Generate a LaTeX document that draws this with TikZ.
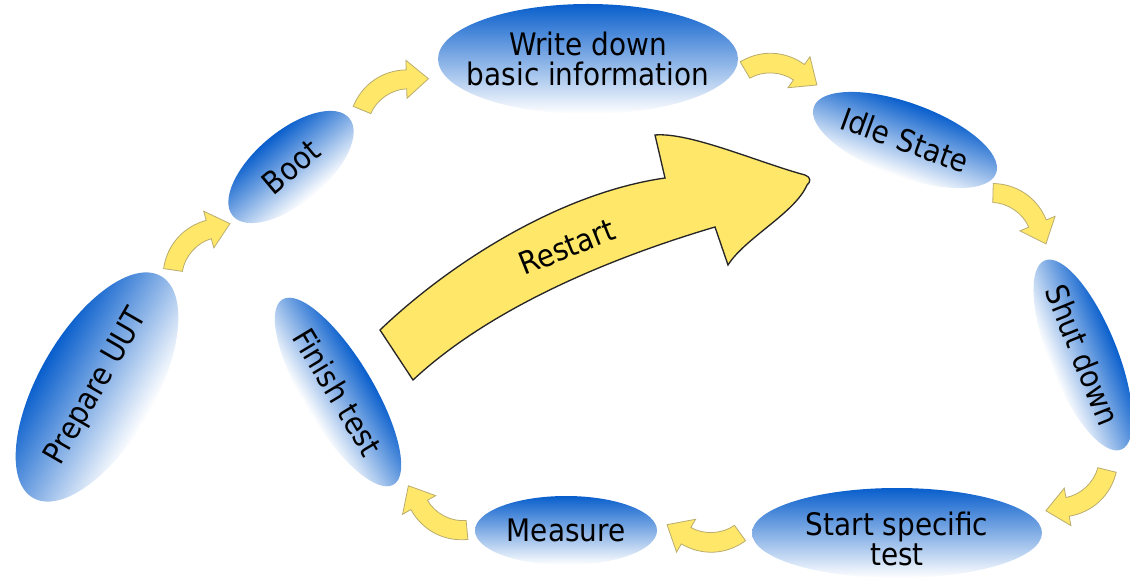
\documentclass[tikz,border=0pt]{standalone}
\usepackage{fontspec}
\newfontfamily\lblfont{DejaVu Sans Condensed}
\usetikzlibrary{shapes.geometric}
\definecolor{ablue}{RGB}{8,94,204}
\definecolor{ayellow}{RGB}{255,231,106}
\definecolor{aedge}{RGB}{185,172,110}
\tikzset{
  ovalfill/.style={top color=ablue, bottom color=white, draw=none},
  lbl/.style={font=\lblfont\fontsize{23.25pt}{22.5pt}\selectfont, align=center, inner sep=0pt, text=black},
  smallarrow/.style={fill=ayellow, draw=aedge, line width=0.6pt, line join=miter},
  bigarrow/.style={fill=ayellow, draw=black!85, line width=1pt, line join=miter}
}
% #1 name, #2 x, #3 y, #4 semi-major, #5 semi-minor, #6 angle, #7 text, #8 text offset (local y)
\newcommand\ovalnode[8]{%
  \begin{scope}[transform canvas={shift={(#2,#3)}, rotate=#6}]
    \shade[ovalfill] (0,0) ellipse ({#4} and {#5});
    \node[lbl] (#1) at (0,#8) {#7};
  \end{scope}}
\newcommand\curvedarrow[2]{%
  \pgfmathanglebetweenpoints{\pgfpointanchor{#1}{center}}{\pgfpointanchor{#2}{center}}%
  \edef\caang{\pgfmathresult}%
  \begin{scope}[shift={(#1)}, rotate=\caang]
   \begin{scope}[rotate=9.4]
    \draw[smallarrow] (-5.18,7.97) .. controls (14.9,21.1) and (39.1,21.1) .. (59.18,7.97)
      -- (64.36,15.94) -- (72.46,-11.99) -- (43.64,-15.94) -- (48.82,-7.97)
      .. controls (36.2,0.2) and (17.8,0.2) .. (5.18,-7.97) -- cycle;
   \end{scope}
  \end{scope}}
\begin{document}
\begin{tikzpicture}[x=0.75pt,y=0.75pt]
\useasboundingbox (0,0) rectangle (1130,578);
% ovals
\ovalnode{prep}{97}{191}{128}{58}{60}{Prepare UUT}{0}
\ovalnode{boot}{291}{411}{76}{36}{40}{Boot}{0}
\ovalnode{write}{588}{519}{150}{55}{0}{Write down\\basic information}{0}
\ovalnode{idle}{905}{438}{97}{37}{-20}{Idle State}{0}
\ovalnode{shut}{1083}{223}{102}{34}{-68}{Shut down}{0}
\ovalnode{start}{897}{45}{145}{45}{0}{Start specific\\test}{-6}
\ovalnode{meas}{566}{47.5}{91}{34.5}{0}{Measure}{0}
\ovalnode{fin}{338}{186}{108}{35}{-59}{Finish test}{0}
% small curved arrows
\coordinate (a1t) at (173,308); \coordinate (a1h) at (232,356);
\coordinate (a2t) at (362,468); \coordinate (a2h) at (430,500);
\coordinate (a3t) at (745,508); \coordinate (a3h) at (817,493);
\coordinate (a4t) at (993,385); \coordinate (a4h) at (1045,335);
\coordinate (a5t) at (1107,108); \coordinate (a5h) at (1047,68);
\coordinate (a6t) at (740,45); \coordinate (a6h) at (670,53);
\coordinate (a7t) at (467,48); \coordinate (a7h) at (410,91);
\curvedarrow{a1t}{a1h}
\curvedarrow{a2t}{a2h}
\curvedarrow{a3t}{a3h}
\curvedarrow{a4t}{a4h}
\curvedarrow{a5t}{a5h}
\curvedarrow{a6t}{a6h}
\curvedarrow{a7t}{a7h}
% big restart arrow
\draw[bigarrow] (380,248) .. controls (450,315) and (560,385) .. (665,400)
  -- (655,443) .. controls (690,446) and (760,415) .. (805,403)
  .. controls (811,401) and (811,396) .. (807,393)
  .. controls (795,365) and (745,340) .. (728,313)
  -- (715,351) .. controls (610,320) and (490,270) .. (413,198) -- cycle;
\node[lbl, rotate=21.8] (restart) at (567,331) {Restart};
\end{tikzpicture}
\end{document}
